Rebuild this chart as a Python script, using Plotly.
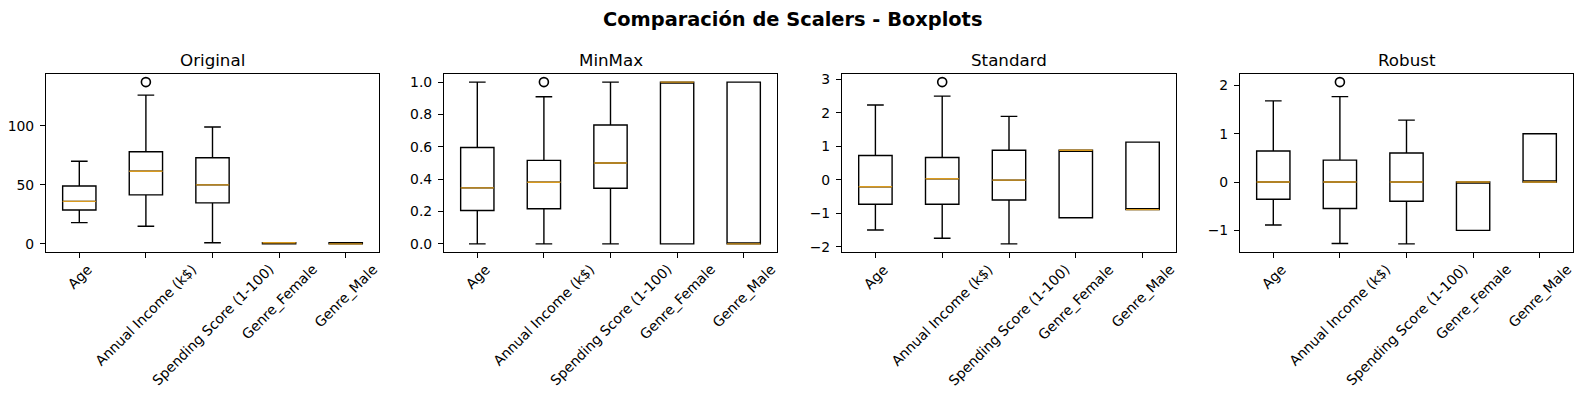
import plotly.graph_objects as go

categories = ["Age", "Annual Income (k$)", "Spending Score (1-100)", "Genre_Female", "Genre_Male"]
positions = [1, 2, 3, 4, 5]

# Original
orig_low = [18, 15, 1, 0, 0]
orig_q1 = [28.75, 41.5, 34.75, 0, 0]
orig_med = [36, 61.5, 50, 1, 0]
orig_q3 = [49, 78, 73, 1, 1]
orig_high = [70, 126, 99, 1, 1]
orig_out = [137]

# MinMax
mm_low = [0, 0, 0, 0, 0]
mm_q1 = [0.2067, 0.2172, 0.3444, 0, 0]
mm_med = [0.3462, 0.3811, 0.5, 1, 0]
mm_q3 = [0.5962, 0.5164, 0.7347, 1, 1]
mm_high = [1, 0.9098, 1, 1, 1]
mm_out = [1.0]

# Standard
st_low = [-1.496, -1.739, -1.910, -1.128, -0.886]
st_q1 = [-0.725, -0.728, -0.600, -1.128, -0.886]
st_med = [-0.205, 0.036, -0.008, 0.886, -0.886]
st_q3 = [0.728, 0.666, 0.885, 0.886, 1.128]
st_high = [2.235, 2.498, 1.894, 0.886, 1.128]
st_out = [2.918]

# Robust
rb_low = [-0.889, -1.274, -1.281, -1, 0]
rb_q1 = [-0.358, -0.548, -0.399, -1, 0]
rb_med = [0, 0, 0, 0, 0]
rb_q3 = [0.642, 0.452, 0.601, 0, 1]
rb_high = [1.679, 1.767, 1.281, 0, 1]
rb_out = [2.068]

titles = ["Original", "MinMax", "Standard", "Robust"]
panels = [
    (orig_low, orig_q1, orig_med, orig_q3, orig_high, orig_out),
    (mm_low, mm_q1, mm_med, mm_q3, mm_high, mm_out),
    (st_low, st_q1, st_med, st_q3, st_high, st_out),
    (rb_low, rb_q1, rb_med, rb_q3, rb_high, rb_out),
]
ytickvals = [[0, 50, 100], [0, 0.2, 0.4, 0.6, 0.8, 1.0], [-2, -1, 0, 1, 2, 3], [-1, 0, 1, 2]]
yticktext = [["0", "50", "100"], ["0.0", "0.2", "0.4", "0.6", "0.8", "1.0"],
             ["\u22122", "\u22121", "0", "1", "2", "3"], ["\u22121", "0", "1", "2"]]

# the page body has an 8px default margin; figure is drawn offset by it
OFF = 8
W, H = 1583 - 2 * OFF, 397 - 2 * OFF
xdom_px = [(46, 379), (444, 777), (842, 1176), (1240, 1573)]
ytop_px, ybot_px = 74, 252
ydom = [1 - (ybot_px - OFF) / H, 1 - (ytop_px - OFF) / H]

FONT = "DejaVu Sans"
MED_COLOR = "#d99a1e"

fig = go.Figure()
annotations = []
layout = {}

for i, (low, q1, med, q3, high, out) in enumerate(panels):
    n = i + 1
    xa = "x" if n == 1 else f"x{n}"
    ya = "y" if n == 1 else f"y{n}"
    fig.add_trace(go.Box(
        x=positions, q1=q1, median=med, q3=q3, lowerfence=low, upperfence=high,
        width=0.5, whiskerwidth=0.5, boxpoints=False,
        line=dict(color="black", width=1.4), fillcolor="rgba(0,0,0,0)",
        xaxis=xa, yaxis=ya, showlegend=False, hoverinfo="skip",
    ))
    mx, my = [], []
    for p, m in zip(positions, med):
        mx += [p - 0.25, p + 0.25, None]
        my += [m, m, None]
    fig.add_trace(go.Scatter(x=mx, y=my, mode="lines", line=dict(color=MED_COLOR, width=1.4),
                             xaxis=xa, yaxis=ya, showlegend=False, hoverinfo="skip"))
    fig.add_trace(go.Scatter(x=[2] * len(out), y=out, mode="markers",
                             marker=dict(symbol="circle-open", size=9, color="black", line=dict(width=1.6)),
                             xaxis=xa, yaxis=ya, showlegend=False, hoverinfo="skip"))

    allv = low + high + out
    lo, hi = min(allv), max(allv)
    pad = (hi - lo) * 0.05
    x0, x1 = xdom_px[i]
    x0, x1 = (x0 - OFF) / W, (x1 - OFF) / W
    layout["xaxis" if n == 1 else f"xaxis{n}"] = dict(
        domain=[x0, x1], anchor=ya, range=[0.5, 5.5],
        tickvals=positions, showticklabels=False, ticks="outside", ticklen=5, tickwidth=1.1,
        tickcolor="black", showline=True, linecolor="black", linewidth=1.1, mirror=True,
        showgrid=False, zeroline=False, fixedrange=True, automargin=False,
    )
    layout["yaxis" if n == 1 else f"yaxis{n}"] = dict(
        domain=ydom, anchor=xa, range=[lo - pad, hi + pad],
        tickvals=ytickvals[i], ticktext=yticktext[i], ticks="outside", ticklen=5, tickwidth=1.1,
        tickcolor="black", showline=True, linecolor="black", linewidth=1.1, mirror=True,
        showgrid=False, zeroline=False, tickfont=dict(family=FONT, size=13.9, color="black"),
        ticklabelstandoff=3, fixedrange=True, automargin=False,
    )
    # subplot title
    annotations.append(dict(
        text=titles[i], x=(x0 + x1) / 2, y=ydom[1], xref="paper", yref="paper",
        xanchor="center", yanchor="bottom", yshift=2, showarrow=False,
        font=dict(family=FONT, size=16.7, color="black"),
    ))
    # rotated category labels
    for p, c in zip(positions, categories):
        annotations.append(dict(
            text=c, x=p, xref=xa, y=ydom[0], yref="paper", xanchor="center", yanchor="top",
            yshift=-8, textangle=-45, showarrow=False, borderpad=0,
            font=dict(family=FONT, size=13.9, color="black"),
        ))

annotations.append(dict(
    text="<b>Comparación de Scalers - Boxplots</b>", x=(792 - OFF) / W, y=1 - (20 - OFF) / H,
    xref="paper", yref="paper", xanchor="center", yanchor="middle", showarrow=False,
    font=dict(family=FONT, size=19.4, color="black"),
))

fig.update_layout(
    width=W, height=H, margin=dict(l=0, r=0, t=0, b=0),
    paper_bgcolor="white", plot_bgcolor="white",
    annotations=annotations, **layout,
)

fig.write_html("out.html")
